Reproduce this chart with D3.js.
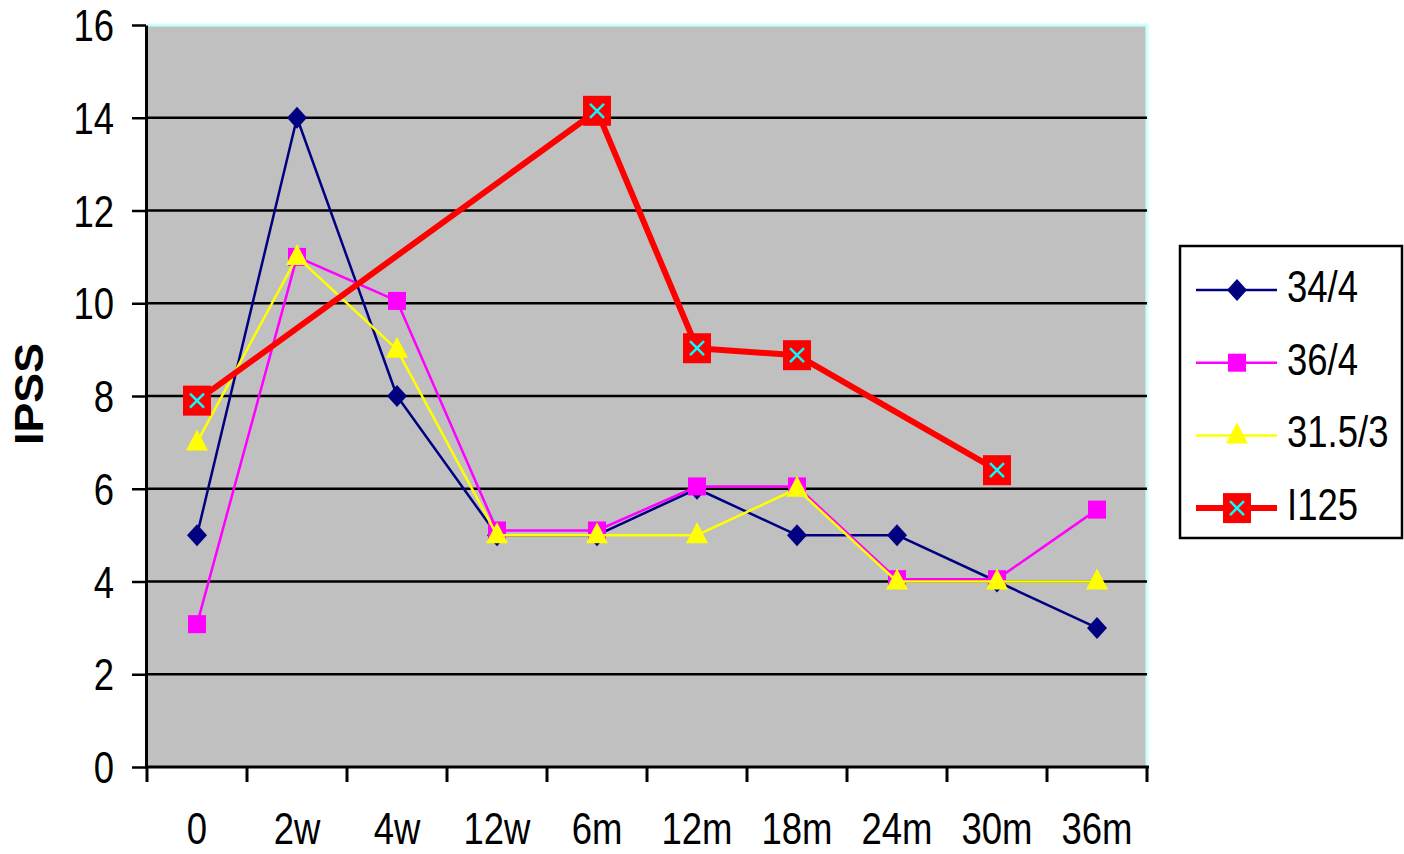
<!DOCTYPE html>
<html>
<head>
<meta charset="utf-8">
<script src="https://cdn.jsdelivr.net/npm/d3@7"></script>
<style>
  body { margin: 0; background: #fff; }
  svg text { font-family: "Liberation Sans", Arial, sans-serif; fill: #000; }
</style>
</head>
<body>
<div id="chart"></div>
<script>
// data
const categories = ["0", "2w", "4w", "12w", "6m", "12m", "18m", "24m", "30m", "36m"];
const s34_4 = [5, 14, 8, 5, 5, 6, 5, 5, 4, 3];
const s36_4 = [3.08, 11, 10.05, 5.1, 5.1, 6.05, 6.05, 4.05, 4.05, 5.55];
const s31_5_3 = [7, 11, 9, 5, 5, 5, 6, 4, 4, 4];
const sI125 = [7.9, null, null, null, 14.15, 9.03, 8.88, null, 6.4, null];
const yTicks = [0, 2, 4, 6, 8, 10, 12, 14, 16];

const series = [
  { name: "34/4", values: s34_4, color: "#000080", width: 2.5, marker: "diamond" },
  { name: "36/4", values: s36_4, color: "#ff00ff", width: 2.5, marker: "square" },
  { name: "31.5/3", values: s31_5_3, color: "#ffff00", width: 2.5, marker: "triangle" },
  { name: "I125", values: sI125, color: "#ff0000", width: 6, marker: "xbox" }
];

const W = 1404, H = 854;
const plot = { left: 147, right: 1147, top: 25, bottom: 767 };
const FS = 44, SX = 0.83;   // text is tall and a bit narrow in the original

const svg = d3.select("#chart").append("svg")
  .attr("width", W).attr("height", H);

const x = d3.scaleBand().domain(categories).range([plot.left, plot.right]);
const y = d3.scaleLinear().domain([0, 16]).range([plot.bottom, plot.top]);
const cx = c => x(c) + x.bandwidth() / 2;

// narrow text helper
function label(g, tx, ty, str, anchor, size) {
  return g.append("text")
    .attr("transform", `translate(${tx},${ty}) scale(${SX},1)`)
    .attr("text-anchor", anchor)
    .attr("font-size", size)
    .text(str);
}

// plot background
svg.append("rect")
  .attr("x", plot.left).attr("y", plot.top)
  .attr("width", plot.right - plot.left).attr("height", plot.bottom - plot.top)
  .attr("fill", "#c0c0c0");
svg.append("path")
  .attr("d", `M${plot.left},${plot.top}H${plot.right}V${plot.bottom}`)
  .attr("fill", "none").attr("stroke", "#ccffff").attr("stroke-width", 3);

// gridlines
svg.append("g").selectAll("line")
  .data(yTicks.filter(d => d > 0 && d < 16))
  .join("line")
    .attr("x1", plot.left).attr("x2", plot.right)
    .attr("y1", d => y(d)).attr("y2", d => y(d))
    .attr("stroke", "#000").attr("stroke-width", 2.5);

// Y axis
const yAxis = svg.append("g")
  .attr("transform", `translate(${plot.left - 1},0)`)
  .call(d3.axisLeft(y).tickValues(yTicks).tickSize(14).tickFormat("").tickSizeOuter(0));
yAxis.select(".domain").attr("stroke-width", 3);
yAxis.selectAll(".tick line").attr("stroke-width", 2.5);
const yLab = svg.append("g");
yTicks.forEach(t => label(yLab, 114, y(t) + 16, t, "end", FS));

// X axis line, ticks at category boundaries
const xg = svg.append("g");
xg.append("line")
  .attr("x1", plot.left - 2).attr("x2", plot.right + 2)
  .attr("y1", plot.bottom).attr("y2", plot.bottom)
  .attr("stroke", "#000").attr("stroke-width", 3);
const bounds = categories.map(c => x(c)).concat([x.range()[1]]);
xg.selectAll("line.tk")
  .data(bounds)
  .join("line")
    .attr("class", "tk")
    .attr("x1", d => d).attr("x2", d => d)
    .attr("y1", plot.bottom).attr("y2", plot.bottom + 15)
    .attr("stroke", "#000").attr("stroke-width", 3);
categories.forEach(c => label(xg, cx(c), 844, c, "middle", FS));

// Y label
svg.append("text")
  .attr("transform", "translate(43,394) rotate(-90)")
  .attr("text-anchor", "middle")
  .attr("font-size", 40).attr("font-weight", "bold")
  .attr("textLength", 102).attr("lengthAdjust", "spacingAndGlyphs")
  .text("IPSS");

// marker drawing
function drawMarker(g, type, color) {
  if (type === "diamond") {
    g.append("path").attr("d", "M0,-11L10,0L0,11L-10,0Z").attr("fill", color);
  } else if (type === "square") {
    g.append("rect").attr("x", -9).attr("y", -9).attr("width", 18).attr("height", 18)
      .attr("fill", color);
  } else if (type === "triangle") {
    g.append("path").attr("d", "M0,-13L11,8L-11,8Z").attr("fill", color);
  } else if (type === "xbox") {
    g.append("rect").attr("x", -14).attr("y", -15).attr("width", 28).attr("height", 30)
      .attr("fill", color);
    g.append("path").attr("d", "M-7,-7L7,7M7,-7L-7,7")
      .attr("stroke", "#00ffff").attr("stroke-width", 2.5).attr("fill", "none");
  }
}

const line = d3.line().x(d => cx(d.cat)).y(d => y(d.v));

series.forEach(s => {
  const pts = s.values.map((v, i) => ({ cat: categories[i], v: v })).filter(d => d.v != null);
  svg.append("path")
    .datum(pts)
    .attr("d", line)
    .attr("fill", "none")
    .attr("stroke", s.color)
    .attr("stroke-width", s.width)
    .attr("stroke-linejoin", "round");
  pts.forEach(p => {
    const g = svg.append("g").attr("transform", `translate(${cx(p.cat)},${y(p.v)})`);
    drawMarker(g, s.marker, s.color);
  });
});

// legend
const legend = svg.append("g");
legend.append("rect")
  .attr("x", 1180).attr("y", 246).attr("width", 222).attr("height", 292)
  .attr("fill", "#fff").attr("stroke", "#000").attr("stroke-width", 2.5);
series.forEach((s, i) => {
  const ly = 290 + i * 72.7;
  legend.append("line")
    .attr("x1", 1196).attr("x2", 1277).attr("y1", ly).attr("y2", ly)
    .attr("stroke", s.color).attr("stroke-width", s.width);
  const g = legend.append("g").attr("transform", `translate(1237,${ly})`);
  drawMarker(g, s.marker, s.color);
  label(legend, 1287, ly + 12, s.name, "start", FS);
});
</script>
</body>
</html>
